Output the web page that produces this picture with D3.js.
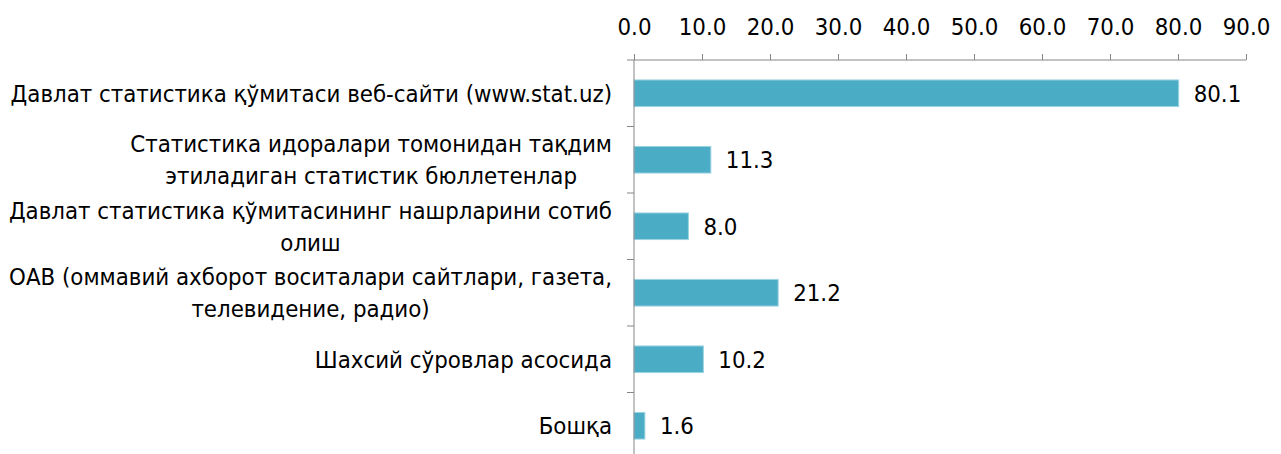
<!DOCTYPE html>
<html>
<head>
<meta charset="utf-8">
<script src="https://cdn.jsdelivr.net/npm/d3@7"></script>
<style>
    body { margin: 0; background: #fff; }
    text { font-family: "DejaVu Sans Condensed", "Liberation Sans Narrow", "Noto Sans", sans-serif; fill: #000; }
    .axis path, .axis line { stroke: #868686; }
</style>
</head>
<body>
<div id="chart"></div>
<script>
    // categories, one array per wrapped line
    const categories = [
        ["Давлат статистика қўмитаси веб-сайти (www.stat.uz)"],
        ["Статистика идоралари томонидан тақдим", "этиладиган статистик бюллетенлар"],
        ["Давлат статистика қўмитасининг нашрларини сотиб", "олиш"],
        ["ОАВ (оммавий ахборот воситалари сайтлари, газета,", "телевидение, радио)"],
        ["Шахсий сўровлар асосида"],
        ["Бошқа"]
    ];
    const values = [80.1, 11.3, 8.0, 21.2, 10.2, 1.6];
    const xTicks = [0, 10, 20, 30, 40, 50, 60, 70, 80, 90];

    const width = 1281, height = 454;
    const plotLeft = 634, plotRight = 1246, plotTop = 60, plotBottom = 459;
    const labelRight = 612;

    let svg = d3.select('#chart').append('svg')
        .attr('width', width)
        .attr('height', height);

    // pick a font size so the longest label is as wide as in the original (~602px)
    let probe = svg.append('text').style('font-size', '20px').text(categories[0][0]);
    let fs = 20 * 602 / probe.node().getComputedTextLength();
    probe.remove();
    fs = Math.min(fs, 26);

    let x = d3.scaleLinear().domain([0, 90]).range([plotLeft, plotRight]);
    let y = d3.scaleBand()
        .domain(d3.range(categories.length))
        .range([plotTop, plotBottom])
        .paddingInner(0.6)
        .paddingOuter(0.3);

    // top value axis
    let xAxis = svg.append('g')
        .attr('class', 'axis')
        .attr('transform', 'translate(0,' + plotTop + ')')
        .call(d3.axisTop(x).tickValues(xTicks).tickFormat(d3.format('.1f')).tickSize(6).tickSizeOuter(0).tickPadding(19));
    xAxis.select('.domain').attr('d', 'M' + plotLeft + ',0H' + plotRight);
    xAxis.selectAll('text').style('font-size', fs + 'px').attr('fill', '#000').attr('font-family', null);

    // bars
    svg.append('g')
        .selectAll('rect')
        .data(values)
        .enter()
        .append('rect')
        .attr('x', x(0))
        .attr('y', function(d, i){ return y(i); })
        .attr('width', function(d){ return x(d) - x(0); })
        .attr('height', y.bandwidth())
        .attr('fill', '#4BACC6')
        .attr('stroke', '#9dd3e2')
        .attr('stroke-width', 1);

    // value labels
    svg.append('g')
        .selectAll('text')
        .data(values)
        .enter()
        .append('text')
        .attr('x', function(d){ return x(d) + 15; })
        .attr('y', function(d, i){ return y(i) + y.bandwidth() / 2; })
        .attr('dy', '0.35em')
        .style('font-size', fs + 'px')
        .text(function(d){ return d3.format('.1f')(d); });

    // category axis: line + ticks between categories
    let catAxis = svg.append('g').attr('class', 'axis');
    catAxis.append('line')
        .attr('x1', plotLeft).attr('x2', plotLeft)
        .attr('y1', plotTop).attr('y2', plotBottom);
    catAxis.selectAll('.tick')
        .data(d3.range(categories.length + 1))
        .enter()
        .append('line')
        .attr('x1', plotLeft - 7).attr('x2', plotLeft)
        .attr('y1', function(i){ return plotTop + i * y.step(); })
        .attr('y2', function(i){ return plotTop + i * y.step(); });

    // category labels, block right-aligned, lines centered
    const lineH = 32;
    let labels = svg.append('g')
        .selectAll('g')
        .data(categories)
        .enter()
        .append('g');
    labels.each(function(lines, i){
        let g = d3.select(this);
        let cy = y(i) + y.bandwidth() / 2;
        let t = g.selectAll('text')
            .data(lines)
            .enter()
            .append('text')
            .style('font-size', fs + 'px')
            .attr('text-anchor', 'middle')
            .attr('dy', '0.35em')
            .attr('y', function(d, k){ return cy + (k - (lines.length - 1) / 2) * lineH; })
            .text(function(d){ return d; });
        let w = d3.max(t.nodes(), function(n){ return n.getComputedTextLength(); });
        t.attr('x', labelRight - w / 2);
    });
</script>
</body>
</html>
